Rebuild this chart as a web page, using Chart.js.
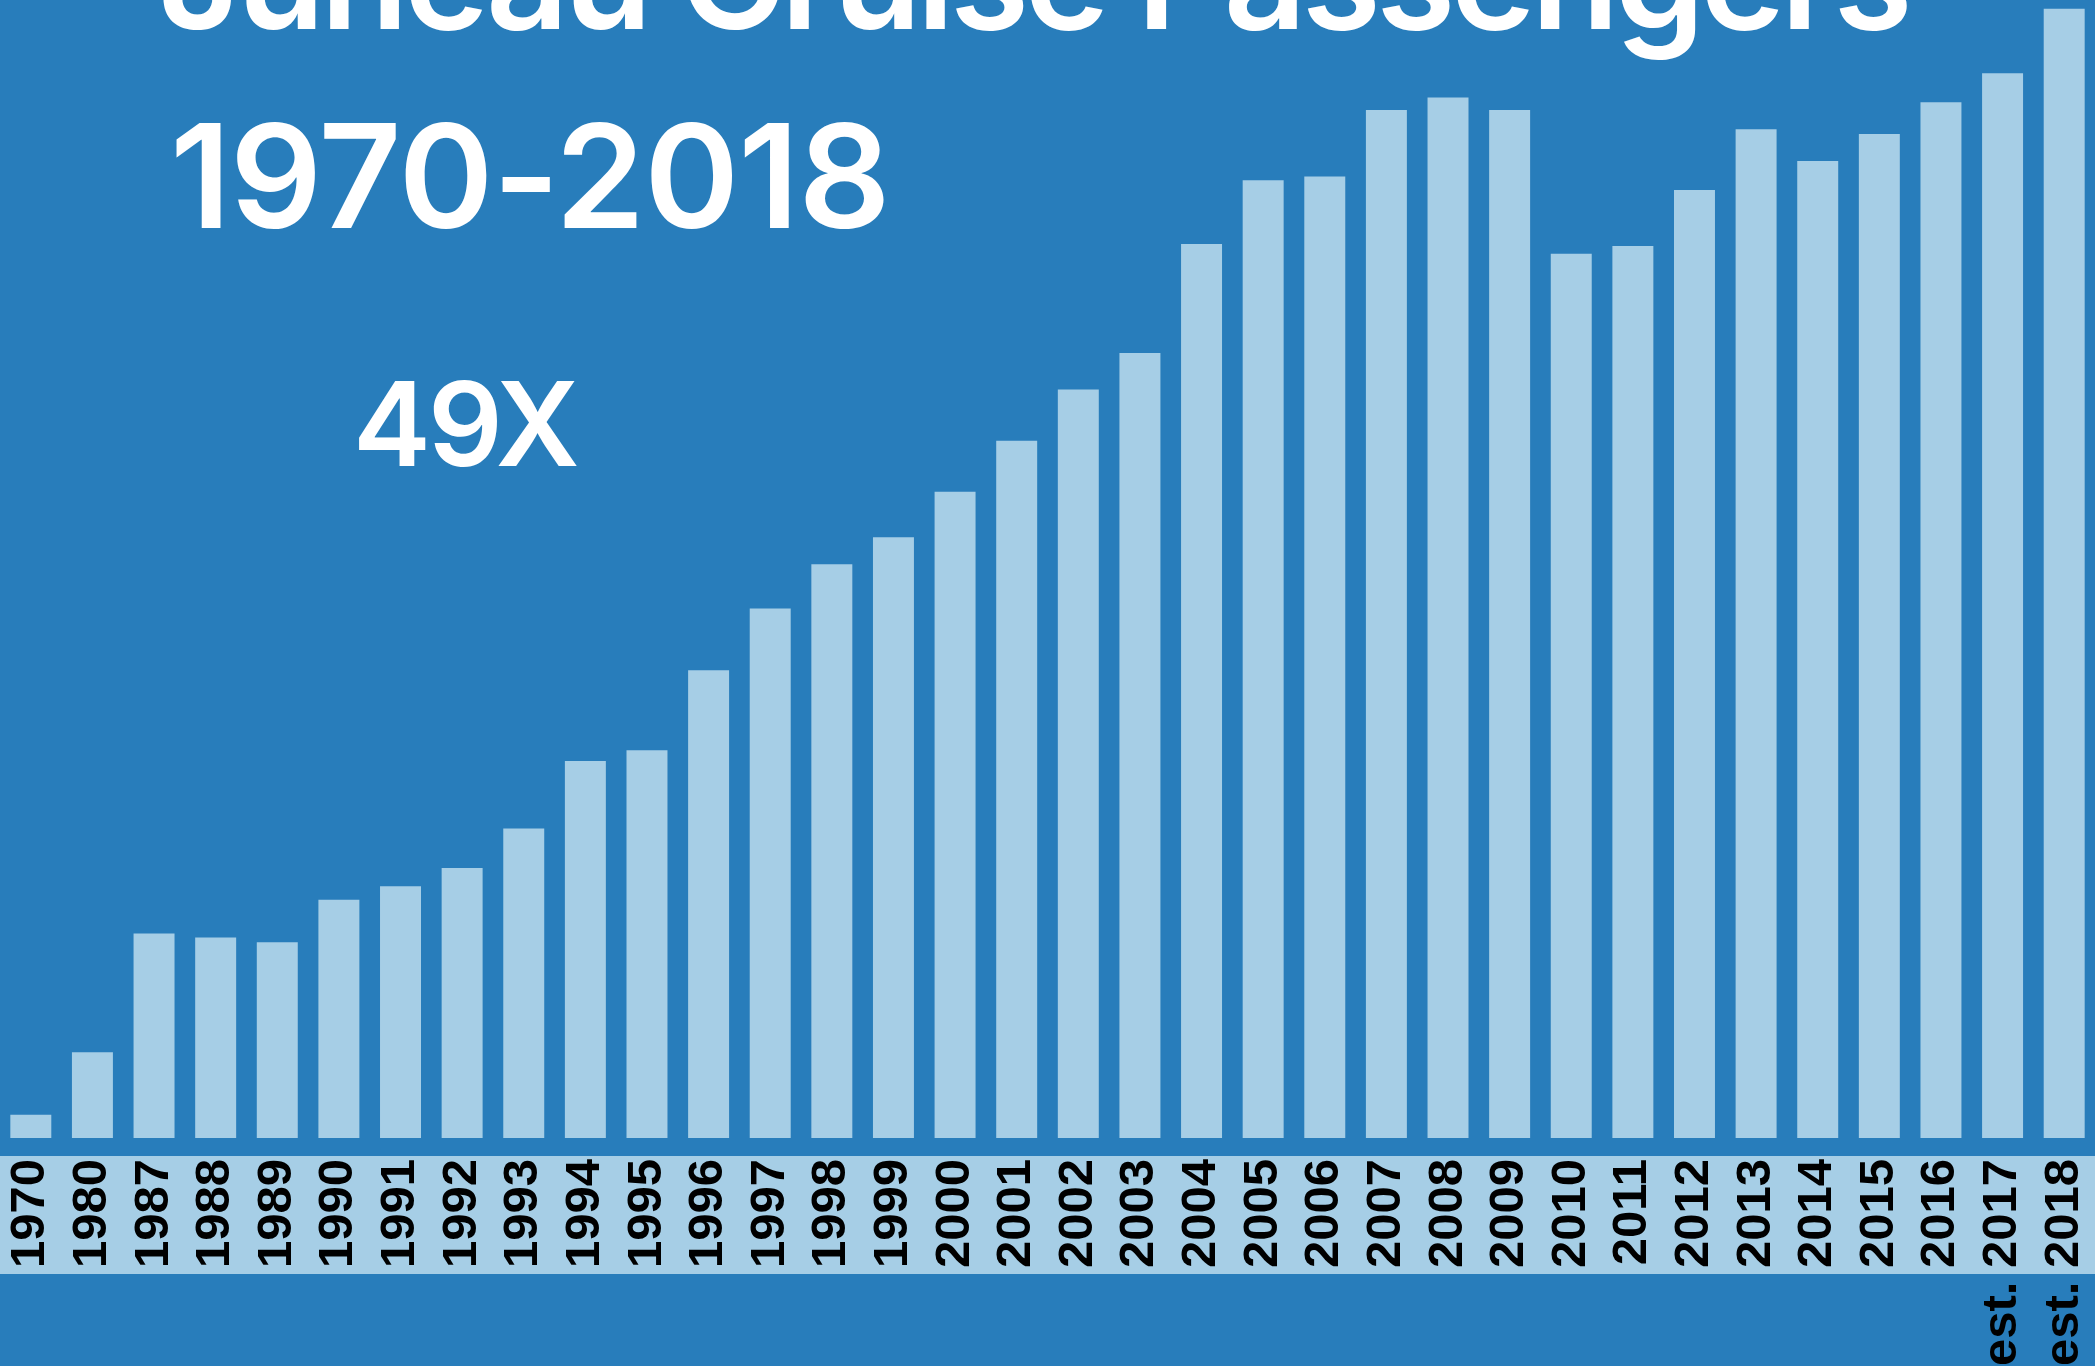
<!DOCTYPE html>
<html lang="en">
<head>
    <meta charset="UTF-8">
    <title>Juneau Cruise Passengers 1970-2018</title>
    <script src="https://cdn.jsdelivr.net/npm/chart.js@4.4.1/dist/chart.umd.min.js"></script>
    <style>
        body { margin: 0; background: #287dbb; overflow: hidden; }
        .wrap { position: relative; width: 2095px; height: 1366px; }
        canvas { position: absolute; left: 0; top: 0; }
        .head {
            position: absolute;
            color: #fff;
            font-family: Inter, "Noto Sans", sans-serif;
            font-weight: 600;
            line-height: 1;
            white-space: nowrap;
        }
        #title { left: 158px; top: -95px; font-size: 144px; letter-spacing: -4.6px; }
        #span { left: 170px; top: 104px; font-size: 144px; letter-spacing: -0.8px; }
        #growth { left: 353px; top: 365px; font-size: 117px; letter-spacing: -3px; }
    </style>
</head>
<body>
    <div class="wrap">
        <canvas id="chart" width="2095" height="1366"></canvas>
        <div class="head" id="title">Juneau Cruise Passengers</div>
        <div class="head" id="span">1970-2018</div>
        <div class="head" id="growth">49X</div>
    </div>

    <script>
        // passengers per season, in thousands (last two are estimates)
        const years = ['1970', '1980', '1987', '1988', '1989', '1990', '1991', '1992', '1993', '1994',
            '1995', '1996', '1997', '1998', '1999', '2000', '2001', '2002', '2003', '2004',
            '2005', '2006', '2007', '2008', '2009', '2010', '2011', '2012', '2013', '2014',
            '2015', '2016', 'est. 2017', 'est. 2018'];
        const passengers = [24, 89, 212, 208, 203, 247, 261, 280, 321, 391,
            402, 485, 549, 595, 623, 670, 723, 776, 814, 927,
            993, 997, 1066, 1079, 1066, 917, 925, 983, 1046, 1013,
            1041, 1074, 1104, 1171];
        const yMax = 1180;

        const barColor = '#a6cee6';

        // light strip behind the year labels
        const labelBand = {
            id: 'labelBand',
            beforeDraw(chart) {
                const x = chart.scales.x;
                const ctx = chart.ctx;
                ctx.save();
                ctx.fillStyle = barColor;
                ctx.fillRect(0, x.top + 18, chart.width, 118);
                ctx.restore();
            }
        };

        const ctx = document.getElementById('chart').getContext('2d');
        const myChart = new Chart(ctx, {
            type: 'bar',
            data: {
                labels: years,
                datasets: [{
                    data: passengers,
                    backgroundColor: barColor,
                    borderWidth: 0,
                    barPercentage: 0.665,
                    categoryPercentage: 1
                }]
            },
            options: {
                responsive: false,
                animation: false,
                devicePixelRatio: 1,
                layout: { padding: 0 },
                plugins: {
                    legend: { display: false },
                    tooltip: { enabled: false }
                },
                scales: {
                    x: {
                        grid: { display: false, drawTicks: false },
                        border: { display: false },
                        ticks: {
                            color: '#000',
                            font: { family: '"Liberation Sans", Arial, sans-serif', weight: 'bold', size: 49 },
                            minRotation: 90,
                            maxRotation: 90,
                            autoSkip: false,
                            padding: 21
                        },
                        afterFit(scale) {
                            // fixed axis height, no side padding so bars span the full width
                            scale.height = 228;
                            scale.paddingLeft = 0;
                            scale.paddingRight = 0;
                        }
                    },
                    y: { display: false, min: 0, max: yMax }
                }
            },
            plugins: [labelBand]
        });
    </script>
</body>
</html>
